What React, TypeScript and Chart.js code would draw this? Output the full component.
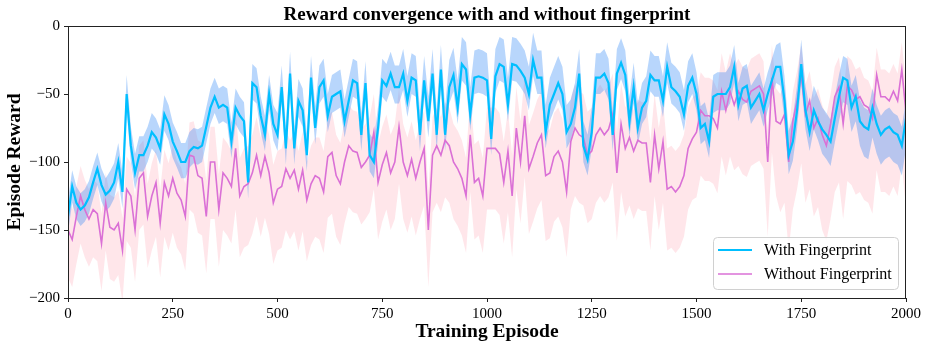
import React, { useEffect, useRef } from 'react';
import { Chart, registerables } from 'chart.js';

Chart.register(...registerables);

const FONT = "'Liberation Serif', 'Times New Roman', 'DejaVu Serif', serif";

const titleText = 'Reward convergence with and without fingerprint';
const xTitle = 'Training Episode';
const yTitle = 'Episode Reward';
const seriesNames = ['With Fingerprint', 'Without Fingerprint'];

// episodes sampled every 10
const episodeStep = 10;

const withFingerprint = [
  -140, -118, -130, -135, -132, -126, -115, -105, -117, -124,
  -121, -115, -100, -122, -50, -88, -108, -95, -95, -88,
  -78, -82, -90, -65, -72, -85, -92, -100, -100, -92,
  -89, -90, -88, -74, -60, -52, -60, -58, -60, -85,
  -60, -66, -70, -115, -42, -45, -66, -80, -50, -72,
  -80, -45, -90, -35, -90, -55, -62, -95, -38, -75,
  -45, -40, -66, -52, -50, -48, -70, -55, -40, -42,
  -80, -42, -95, -100, -75, -40, -44, -35, -45, -45,
  -35, -55, -38, -40, -80, -40, -70, -35, -80, -32,
  -80, -45, -36, -60, -28, -32, -65, -38, -37, -38,
  -40, -83, -37, -28, -30, -58, -28, -29, -33, -38,
  -50, -25, -38, -38, -78, -58, -50, -42, -50, -78,
  -72, -60, -35, -88, -98, -78, -38, -38, -35, -42,
  -80, -35, -27, -36, -70, -45, -75, -60, -55, -36,
  -40, -40, -55, -30, -45, -48, -52, -65, -44, -38,
  -50, -75, -72, -85, -52, -50, -50, -50, -45, -30,
  -58, -46, -44, -60, -55, -50, -62, -50, -40, -30,
  -30, -55, -95, -85, -62, -28, -62, -78, -62, -70,
  -76, -80, -85, -68, -52, -38, -40, -60, -52, -70,
  -74, -76, -60, -72, -80, -76, -74, -78, -80, -88,
  -68,
];

const withoutFingerprint = [
  -150, -157, -140, -125, -135, -142, -135, -138, -160, -130,
  -148, -150, -145, -165, -120, -125, -150, -112, -108, -140,
  -125, -115, -145, -115, -125, -112, -123, -128, -140, -95,
  -96, -110, -112, -140, -100, -100, -135, -108, -112, -118,
  -90, -125, -118, -116, -108, -95, -110, -96, -108, -130,
  -120, -118, -105, -112, -106, -120, -106, -128, -116, -110,
  -112, -122, -96, -93, -110, -116, -100, -88, -92, -93,
  -104, -100, -95, -78, -115, -102, -93, -108, -100, -74,
  -100, -110, -98, -112, -100, -90, -150, -95, -88, -95,
  -84, -88, -100, -105, -112, -125, -80, -115, -112, -125,
  -90, -90, -90, -94, -115, -92, -125, -75, -100, -66,
  -105, -96, -86, -80, -110, -108, -96, -92, -100, -122,
  -85, -75, -80, -82, -95, -92, -80, -75, -80, -76,
  -65, -108, -72, -90, -82, -92, -84, -86, -86, -115,
  -80, -105, -85, -120, -118, -122, -118, -110, -90, -83,
  -78, -62, -66, -66, -68, -75, -48, -62, -48, -58,
  -48, -54, -56, -48, -46, -44, -50, -100, -38, -70,
  -72, -65, -100, -70, -55, -36, -65, -55, -75, -68,
  -80, -88, -72, -52, -45, -72, -44, -47, -54, -52,
  -58, -60, -68, -36, -52, -52, -55, -48, -55, -32,
  -64,
];

// band half-widths, one value per 100 episodes
const withUp = [12, 14, 14, 14, 14, 16, 16, 16, 18, 20, 20, 20, 18, 18, 18, 16, 16, 18, 16, 14, 14];
const withDown = [12, 12, 12, 12, 12, 12, 12, 12, 12, 12, 12, 12, 12, 12, 12, 12, 12, 14, 18, 22, 22];
const withoutUp = [22, 24, 24, 26, 28, 28, 30, 28, 28, 28, 30, 32, 32, 30, 30, 28, 24, 22, 22, 20, 20];
const withoutDown = [35, 38, 40, 42, 45, 45, 45, 42, 42, 42, 45, 48, 50, 50, 45, 48, 55, 65, 70, 70, 70];

const xTicksStep = 250;
const yTicksStep = 50;

const pts = (vals: number[], off?: number[], sign = 0) =>
  vals.map((v, i) => ({
    x: i * episodeStep,
    y: off ? v + sign * off[Math.floor((i * episodeStep) / 100)] : v,
  }));

const decorPlugin = {
  id: 'decor',
  afterDraw(chart: any) {
    const { ctx, chartArea } = chart;
    const { left, right, top, bottom } = chartArea;
    ctx.save();
    // frame
    ctx.strokeStyle = '#222';
    ctx.lineWidth = 1;
    ctx.strokeRect(left + 0.5, top + 0.5, right - left - 1, bottom - top);
    const cx = (left + right) / 2;
    // title
    ctx.fillStyle = '#000';
    ctx.font = `bold 19px ${FONT}`;
    ctx.textAlign = 'center';
    ctx.textBaseline = 'alphabetic';
    ctx.fillText(titleText, cx, 20);
    // x title
    ctx.font = `bold 19.5px ${FONT}`;
    ctx.fillText(xTitle, cx, 337);
    // y title
    ctx.save();
    ctx.translate(15, (top + bottom) / 2);
    ctx.rotate(-Math.PI / 2);
    ctx.textBaseline = 'middle';
    ctx.fillText(yTitle, 0, 0);
    ctx.restore();
    // legend
    const bx = 713.5, by = 237.5, bw = 185, bh = 52;
    ctx.beginPath();
    (ctx as any).roundRect(bx, by, bw, bh, 4);
    ctx.fillStyle = 'rgba(255,255,255,0.8)';
    ctx.fill();
    ctx.strokeStyle = '#d0d0d0';
    ctx.stroke();
    const items = [
      { color: '#00BFFF', w: 2.2, y: 250 },
      { color: '#DA70D6', w: 1.6, y: 274 },
    ];
    items.forEach((it, i) => {
      ctx.beginPath();
      ctx.strokeStyle = it.color;
      ctx.lineWidth = it.w;
      ctx.moveTo(718, it.y);
      ctx.lineTo(752, it.y);
      ctx.stroke();
      ctx.fillStyle = '#000';
      ctx.font = `16px ${FONT}`;
      ctx.textAlign = 'left';
      ctx.textBaseline = 'middle';
      ctx.fillText(seriesNames[i], 764, it.y + 1);
    });
    ctx.restore();
  },
};

export default function App() {
  const ref = useRef<HTMLCanvasElement | null>(null);
  useEffect(() => {
    document.body.style.margin = '0';
    const canvas = ref.current;
    if (!canvas) return;
    const tickFont = { family: FONT, size: 15 };
    const chart = new Chart(canvas, {
      type: 'line',
      data: {
        datasets: [
          {
            label: seriesNames[0],
            data: pts(withFingerprint),
            borderColor: '#00BFFF',
            borderWidth: 2.2,
            pointRadius: 0,
            fill: false,
            order: 0,
          },
          {
            label: seriesNames[1],
            data: pts(withoutFingerprint),
            borderColor: '#DA70D6',
            borderWidth: 1.6,
            pointRadius: 0,
            fill: false,
            order: 1,
          },
          {
            label: 'with-upper',
            data: pts(withFingerprint, withUp, 1),
            borderColor: 'rgba(0,0,0,0)',
            borderWidth: 0,
            pointRadius: 0,
            backgroundColor: 'rgba(40,130,245,0.33)',
            fill: '+1',
            order: 2,
          },
          {
            label: 'with-lower',
            data: pts(withFingerprint, withDown, -1),
            borderColor: 'rgba(0,0,0,0)',
            borderWidth: 0,
            pointRadius: 0,
            fill: false,
            order: 3,
          },
          {
            label: 'without-upper',
            data: pts(withoutFingerprint, withoutUp, 1),
            borderColor: 'rgba(0,0,0,0)',
            borderWidth: 0,
            pointRadius: 0,
            backgroundColor: 'rgba(255,192,203,0.4)',
            fill: '+1',
            order: 4,
          },
          {
            label: 'without-lower',
            data: pts(withoutFingerprint, withoutDown, -1),
            borderColor: 'rgba(0,0,0,0)',
            borderWidth: 0,
            pointRadius: 0,
            fill: false,
            order: 5,
          },
        ],
      },
      options: {
        responsive: false,
        animation: false,
        layout: { padding: { top: 26, right: 23, left: 0, bottom: 0 } },
        plugins: {
          legend: { display: false },
          title: { display: false },
          tooltip: { enabled: false },
        },
        scales: {
          x: {
            type: 'linear',
            min: 0,
            max: 2000,
            ticks: {
              stepSize: xTicksStep,
              font: tickFont,
              color: '#000',
              padding: 3,
              maxRotation: 0,
              callback: (v: any) => String(v),
            },
            grid: { display: true, drawOnChartArea: false, drawTicks: true, tickLength: 4, color: '#222' },
            border: { display: true, color: '#222' },
            afterFit: (s: any) => { s.height = 51; },
          },
          y: {
            type: 'linear',
            min: -200,
            max: 0,
            ticks: {
              stepSize: yTicksStep,
              font: tickFont,
              color: '#000',
              padding: 4,
              callback: (v: any) => String(v).replace('-', '\u2212'),
            },
            grid: { display: true, drawOnChartArea: false, drawTicks: true, tickLength: 4, color: '#222' },
            border: { display: true, color: '#222' },
            afterFit: (s: any) => { s.width = 68; },
          },
        },
      } as any,
      plugins: [decorPlugin],
    });
    return () => chart.destroy();
  }, []);
  return <canvas ref={ref} width={929} height={349} style={{ display: 'block' }} />;
}
